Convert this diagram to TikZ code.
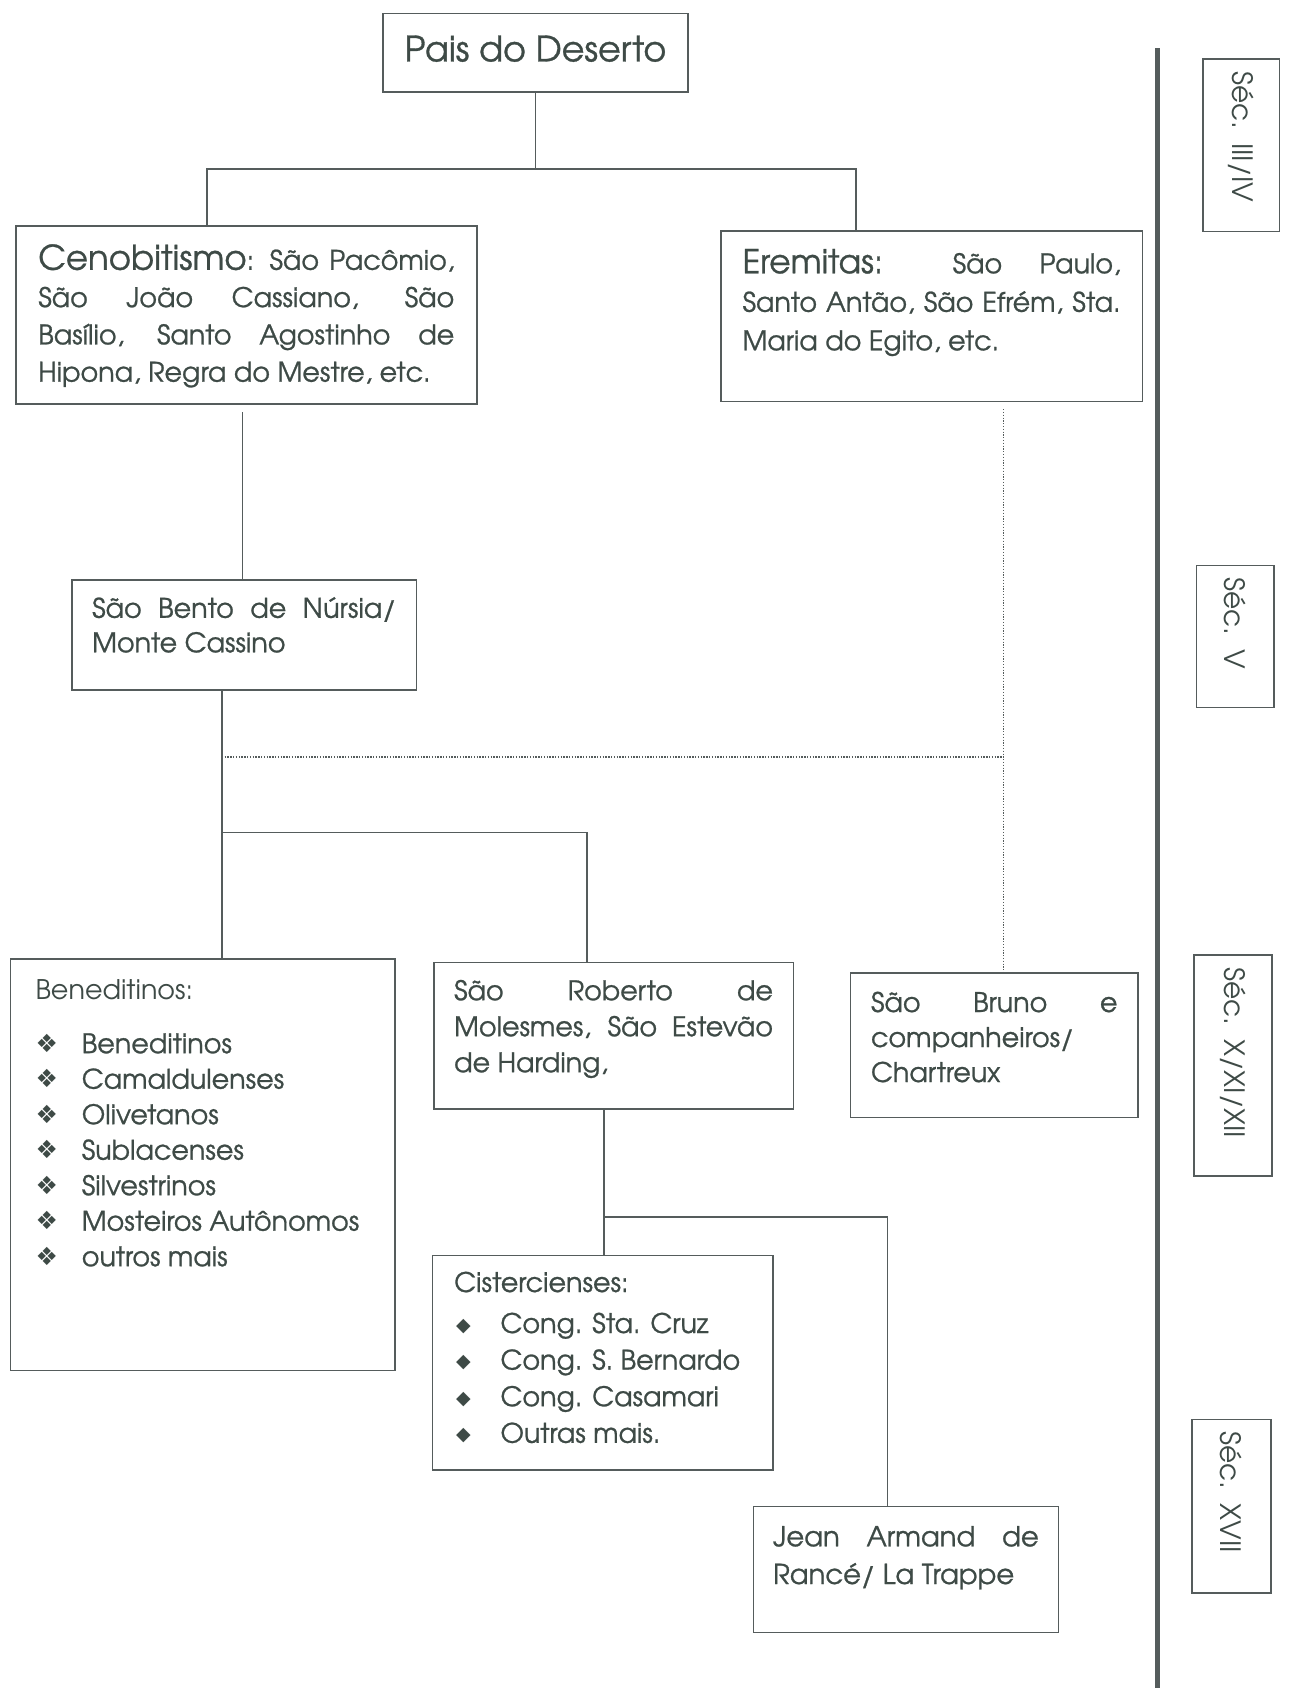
\documentclass[tikz,border=0pt]{standalone}
\usepackage{fontspec}
\setmainfont{texgyreadventor}[Extension=.otf, UprightFont=*-regular, BoldFont=*-bold, ItalicFont=*-italic, BoldItalicFont=*-bolditalic, FakeBold=0.9]
\newfontfamily\lightf{texgyreadventor}[Extension=.otf, UprightFont=*-regular, BoldFont=*-bold]
\newfontfamily\symf{DejaVu Sans}
\definecolor{txtc}{RGB}{62,74,70}
\definecolor{linec}{RGB}{85,92,92}
\newcommand\jl[1]{\makebox[\linewidth][s]{#1}}
\newcommand\bbul{\makebox[46.3pt][l]{\raisebox{1pt}{\symf\fontsize{25}{25}\selectfont ❖}}}
\newcommand\cbul{\hspace*{2pt}\makebox[44.3pt][l]{\raisebox{2pt}{\symf\fontsize{19}{19}\selectfont ◆}}}
\begin{document}
\begin{tikzpicture}[x=1pt,y=1pt,
  box/.style={draw=linec, line width=1.6pt, anchor=north west, inner ysep=0pt, text=txtc},
  secbox/.style={draw=linec, line width=1.6pt, rotate=-90, inner xsep=12pt, align=left, text=txtc, font=\lightf\fontsize{28}{32}\selectfont},
  conn/.style={draw=linec, line width=1.4pt},
  dots/.style={draw=linec, line width=1.3pt, dash pattern=on 1.3pt off 1.5pt}]
\useasboundingbox[fill=white] (0,0) rectangle (1289,-1688);

% main boxes
\node[box, minimum width=304.8pt, minimum height=78.6pt, inner xsep=0pt, font=\fontsize{35}{40}\selectfont] (pais) at (382.3,-12.9) {\raisebox{9pt}{Pais do Deserto}};

\node[box, inner xsep=22.5pt, font=\fontsize{27}{37.3}\selectfont] (ceno) at (15,-225)
 {\parbox[c][178pt][t]{416pt}{\rule{0pt}{44pt}\jl{{\fontsize{34}{37}\selectfont Cenobitismo}: São Pacômio,}\\
 \jl{São João Cassiano, São}\\
 \jl{Basílio, Santo Agostinho de}\\
 Hipona, Regra do Mestre, etc.}};

\node[box, inner xsep=21.75pt, font=\fontsize{27}{38.5}\selectfont] (ere) at (720,-230.5)
 {\parbox[c][170pt][t]{378pt}{\rule{0pt}{42pt}\jl{{\fontsize{33}{37}\selectfont Eremitas:} São Paulo,}\\
 \jl{Santo Antão, São Efrém, Sta.}\\
 Maria do Egito, etc.}};

\node[box, inner xsep=20.35pt, font=\fontsize{27}{34.5}\selectfont] (bento) at (71,-579.4)
 {\parbox[c][109.8pt][t]{304pt}{\rule{0pt}{37.6pt}\jl{São Bento de Núrsia/}\\
 Monte Cassino}};

\node[box, inner xsep=25pt, font=\fontsize{27}{35.5}\selectfont] (bened) at (9.7,-958.4)
 {\parbox[c][411.4pt][t]{334.4pt}{\rule{0pt}{40pt}{\lightf Beneditinos:}\\[18.5pt]
 \bbul Beneditinos\\
 \bbul Camaldulenses\\
 \bbul Olivetanos\\
 \bbul Sublacenses\\
 \bbul Silvestrinos\\
 \bbul Mosteiros Autônomos\\
 \bbul outros mais}};

\node[box, inner xsep=20.4pt, font=\fontsize{27}{36}\selectfont] (rob) at (432.9,-961.7)
 {\parbox[c][146.4pt][t]{318.9pt}{\rule{0pt}{37.7pt}\jl{São Roberto de}\\
 \jl{Molesmes, São Estevão}\\
 de Harding,}};

\node[box, inner xsep=20.5pt, font=\fontsize{27}{35}\selectfont] (bruno) at (849.7,-972.4)
 {\parbox[c][144.3pt][t]{246.5pt}{\rule{0pt}{38.8pt}\jl{São Bruno e}\\
 companheiros/\\
 Chartreux}};

\node[box, inner xsep=21.6pt, font=\fontsize{27}{36.6}\selectfont] (cist) at (431.8,-1254.6)
 {\parbox[c][214.3pt][t]{297.1pt}{\rule{0pt}{36.6pt}Cistercienses:\\[4.4pt]
 \cbul Cong. Sta. Cruz\\
 \cbul Cong. S. Bernardo\\
 \cbul Cong. Casamari\\
 \cbul Outras mais.}};

\node[box, inner xsep=19.5pt, font=\fontsize{27.5}{37.7}\selectfont] (jean) at (752.8,-1505.5)
 {\parbox[c][126pt][t]{265.7pt}{\rule{0pt}{40pt}\jl{Jean Armand de}\\
 Rancé/ La Trappe}};

% century boxes
\node[secbox, text width=148.3pt, minimum height=76.4pt] (s1) at (1241.2,-145.4) {Séc. III/IV};
\node[secbox, text width=118.1pt, minimum height=77.6pt] (s2) at (1235.2,-636.5) {Séc. V};
\node[secbox, text width=196.8pt, minimum height=77.5pt] (s3) at (1233,-1065.6) {Séc. X/XI/XII};
\node[secbox, text width=149.4pt, minimum height=78.7pt] (s4) at (1231.5,-1506.1) {Séc. XVII};

% time axis
\coordinate (axt) at (1157.7,-48.5);
\coordinate (axb) at (1157.7,-1688);
\draw[linec, line width=5pt] (axt) -- (axb);

% junction coordinates
\coordinate (jl) at (206.8,-169.1);
\coordinate (jr) at (856.1,-169.1);
\coordinate (cb) at (242.3,-412);
\coordinate (bx) at (221.8,-757);
\coordinate (dx) at (1003.7,-757);
\coordinate (jd) at (221.8,-832.4);
\coordinate (jd2) at (586.9,-832.4);
\coordinate (rx) at (604.1,-1216.9);
\coordinate (rx2) at (887.4,-1216.9);

% connectors
\draw[conn] (pais.south) -- (pais.south |- jl);
\draw[conn] (jl |- ceno.north) -- (jl) -- (jr) -- (jr |- ere.north);
\draw[conn] (cb) -- (cb |- bento.north);
\draw[conn] (bx |- bento.south) -- (bx |- bened.north);
\draw[conn] (jd) -- (jd2) -- (jd2 |- rob.north);
\draw[dots] (bx) -- (dx);
\draw[dots] ([yshift=-7pt]dx |- ere.south) -- (dx |- bruno.north);
\draw[conn] (rx |- rob.south) -- (rx |- cist.north);
\draw[conn] (rx) -- (rx2) -- (rx2 |- jean.north);
\end{tikzpicture}
\end{document}
